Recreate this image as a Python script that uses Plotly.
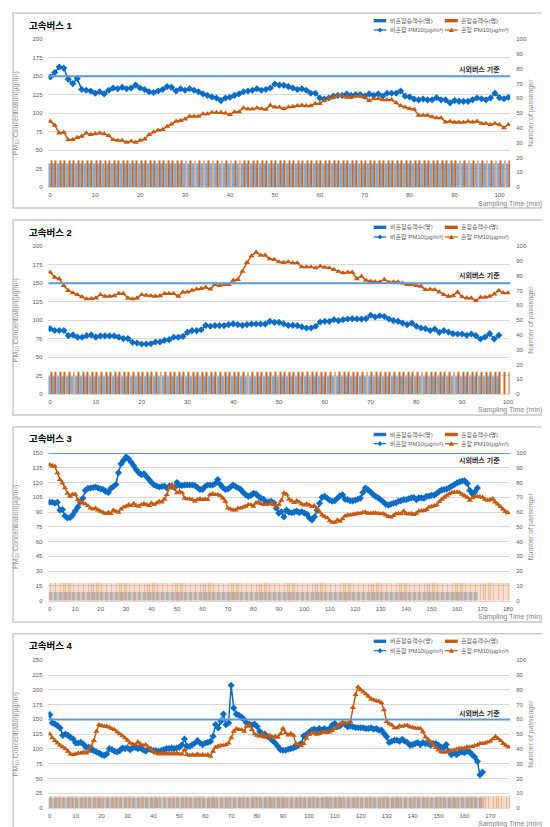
import plotly.graph_objects as go

W, H = 550, 827


def fx(px):
    return px / W


def fy(py):
    return 1 - py / H


# ---------------- data ----------------
standard_pm10 = 150
legend_names = ["비혼잡승객수(명)", "혼잡승객수(명)", "비혼잡 PM10(μg/m³)", "혼잡 PM10(μg/m³)"]
panel_titles = ["고속버스 1", "고속버스 2", "고속버스 3", "고속버스 4"]
standard_label = "시외버스 기준"

# Bus 1
bus1_pm_noncong = [149, 155, 162.5, 161, 146, 140, 147, 132, 131, 130, 127, 129, 126, 131, 134, 133, 135, 133, 134, 138,
                   134, 132, 129, 128, 130, 132, 136, 135, 130, 133, 131, 133, 131, 129, 126, 124, 122, 120.5, 117, 120.5,
                   121.5, 124, 126, 129, 130, 131, 133, 131, 132, 134, 139.5, 138, 137.7, 136, 134, 132, 133, 131, 127, 127,
                   120.5, 119, 120.5, 123, 124, 124, 126, 124, 125, 125, 123, 126, 124, 126, 123, 127, 127, 127, 130, 123,
                   122, 119, 118, 119, 118, 118, 121, 118, 118, 114, 117, 116, 116, 116, 118, 120.5, 119.5, 118, 120.5, 127,
                   121, 119.5, 121.5]
bus1_pm_cong = [89, 83.5, 73, 74, 64, 64, 67, 68.6, 73, 71, 72, 73, 72, 69.5, 64, 63, 63, 60.5, 62, 60.5,
                63, 65, 71, 74.5, 77, 77.7, 82, 85, 89, 90, 92, 95.7, 95.7, 95.7, 99, 99, 101, 101, 101, 100,
                98, 101.6, 101.6, 107, 105.6, 105.6, 107, 106, 105, 110.6, 108, 108, 106, 108, 109, 110, 110.6, 110, 110, 113,
                113, 117, 119.6, 121.5, 123.7, 123.7, 121.5, 121.5, 123, 123, 121.5, 117, 119.6, 119.6, 118, 118, 118, 114, 110, 108,
                106, 105, 97, 97, 97, 95, 93.5, 93.5, 88, 89, 87.6, 87.6, 87.6, 89, 88, 89, 86, 86, 84.4, 86,
                84.4, 80, 84.4]
bus1_pax_noncong = [16, 16, 16, 16, 16, 16, 16, 16, 16, 16, 16, 16, 16, 16, 16, 16, 16, 16, 16, 16,
                    16, 16, 16, 16, 16, 16, 16, 16, 16, 16, 16, 16, 16, 16, 16, 16, 16, 16, 16, 16,
                    16, 16, 16, 16, 16, 16, 16, 16, 16, 16, 16, 16, 16, 16, 16, 16, 16, 16, 16, 16,
                    16, 16, 16, 16, 16, 16, 16, 16, 16, 16, 16, 16, 16, 16, 16, 16, 16, 16, 16, 16,
                    16, 16, 16, 16, 16, 16, 16, 16, 16, 16, 16, 16, 16, 16, 16, 16, 16, 16, 16, 16,
                    16, 16, 16]
bus1_pax_cong = [18, 18, 18, 18, 18, 18, 18, 18, 18, 18, 18, 18, 18, 18, 18, 18, 18, 18, 18, 18,
                 18, 18, 18, 18, 18, 18, 18, 18, 18, 18, 18, 18, 18, 18, 18, 18, 18, 18, 18, 18,
                 18, 18, 18, 18, 18, 18, 18, 18, 18, 18, 18, 18, 18, 18, 18, 18, 18, 18, 18, 18,
                 18, 18, 18, 18, 18, 18, 18, 18, 18, 18, 18, 18, 18, 18, 18, 18, 18, 18, 18, 18,
                 18, 18, 18, 18, 18, 18, 18, 18, 18, 18, 18, 18, 18, 18, 18, 18, 18, 18, 18, 18,
                 18, 18, 18]

# Bus 2
bus2_pm_noncong = [88.5, 86, 86, 86, 79, 80, 77, 76.8, 79, 80, 77, 78.6, 78.6, 78.6, 78.6, 77, 75, 75, 70, 69,
                   67.7, 67.7, 68, 70.4, 70.4, 72.7, 73.6, 76.8, 76.8, 78, 83.5, 85.8, 85.8, 87, 93, 91.7, 92.6, 92.6, 92.6, 94,
                   95, 94, 93, 94, 94.8, 94.8, 94.8, 94.8, 98.4, 97, 97, 95, 93, 93, 92.6, 90.8, 89.4, 89.4, 91.7, 97.5,
                   98.4, 98.4, 100.7, 99.3, 100.7, 101.6, 102, 101.6, 101.6, 102, 106.6, 104.3, 106, 105, 101.6, 99.3, 98.4, 96, 94, 96,
                   91.7, 89.4, 88.5, 86, 88, 83.5, 85.8, 84, 81.7, 81.3, 81.3, 79.5, 81.3, 79, 74.5, 77.2, 81.7, 74.5, 79.5]
bus2_pm_cong = [164.8, 158, 156, 146.7, 140, 136.8, 134.5, 131.4, 128.7, 129, 130, 134.5, 132.3, 132.3, 133, 136, 136, 130, 128.7, 130,
                134.5, 133.6, 133, 132.3, 133, 136, 136, 136, 132.3, 138, 138, 140.4, 142, 142.7, 144.5, 142, 148, 146.7, 148, 148,
                154, 154.9, 166, 178, 187, 191.9, 187.8, 187.8, 182.9, 182, 178.8, 178, 178.8, 177.4, 177.4, 172, 172, 172, 170.7, 173,
                171.6, 170.7, 168.4, 166, 164, 164.8, 164.8, 156, 159.4, 154, 152.6, 152, 151.7, 154.9, 151.3, 151.7, 151.7, 150, 148, 148,
                146.7, 145.8, 141.3, 142, 141.3, 138, 134.5, 132.3, 133, 138, 131.4, 130, 130, 126.4, 131, 131, 132.3, 135.4, 140, 136.8,
                136.8]
bus2_pax_noncong = [12, 12, 12, 12, 12, 12, 12, 12, 12, 12, 12, 12, 12, 12, 12, 12, 12, 12, 12, 12,
                    12, 12, 12, 12, 12, 12, 12, 12, 12, 12, 12, 12, 12, 12, 12, 12, 12, 12, 12, 12,
                    12, 12, 12, 12, 12, 12, 12, 12, 12, 12, 12, 12, 12, 12, 12, 12, 12, 12, 12, 12,
                    12, 12, 12, 12, 12, 12, 12, 12, 12, 12, 12, 12, 12, 12, 12, 12, 12, 12, 12, 12,
                    12, 12, 12, 12, 12, 12, 12, 12, 12, 12, 12, 12, 12, 12, 12, 12, 12, 12, 12]
bus2_pax_cong = [15, 15, 15, 15, 15, 15, 15, 15, 15, 15, 15, 15, 15, 15, 15, 15, 15, 15, 15, 15,
                 15, 15, 15, 15, 15, 15, 15, 15, 15, 15, 15, 15, 15, 15, 15, 15, 15, 15, 15, 15,
                 15, 15, 15, 15, 15, 15, 15, 15, 15, 15, 15, 15, 15, 15, 15, 15, 15, 15, 15, 15,
                 15, 15, 15, 15, 15, 15, 15, 15, 15, 15, 15, 15, 15, 15, 15, 15, 15, 15, 15, 15,
                 15, 15, 15, 15, 15, 15, 15, 15, 15, 15, 15, 15, 15, 15, 15, 15, 15, 15, 15, 15,
                 15]

# Bus 3
bus3_pm_noncong = [100, 100, 99, 100, 92, 92.5, 86, 84, 84.5, 87, 91, 95, 100, 104, 112, 114, 114.5, 115, 115.5, 114.5,
                   113.5, 113, 111, 110, 114, 116, 118, 130, 139, 142.5, 146, 144, 140.5, 137, 133, 130, 128, 129, 126, 123,
                   120, 117.5, 116.5, 115.5, 116, 116.5, 114.5, 116.5, 116, 115, 120, 117, 117, 117.5, 117.5, 117.5, 117.5, 117, 115, 113,
                   113, 116, 117.5, 117.5, 117.5, 119, 123, 118, 115, 113, 113.5, 115.5, 117.5, 116, 114.5, 113, 110, 107.5, 106, 107,
                   109, 108.5, 106, 104, 103, 100, 100.5, 101, 99.5, 94, 89,
                   90.3, 85, 92, 90, 89.3, 90, 91, 89.5, 90.3, 89,
                   88, 84, 82, 85.3, 92, 99, 105, 106, 104, 102,
                   101, 101.5, 104, 106.5, 107.5, 103, 102.8, 101.4, 101.4, 102,
                   103, 104, 110, 114.5, 112.5, 110.5, 108, 106, 104.5, 102.5,
                   100.5, 98, 97, 98, 99, 99.4, 101, 101.4, 102.8, 102.5,
                   103.5, 104.5, 104.8, 102.5, 104.5, 104.5, 103.8, 106, 106.2, 107,
                   107.2, 108.9, 111, 112.5, 112.9, 113.5, 115, 116.5, 118, 119.6,
                   120.6, 121.5, 121.7, 119, 112, 108.5, 110.5, 114.5]
bus3_pm_cong = [138, 137, 136.5, 129.7, 123, 119.5, 114.5, 109, 106, 108, 108, 102.6, 101, 99, 98, 96.5, 94, 93, 94, 92,
                90.7, 89.7, 88.4, 89.7, 88.4, 92, 90.7, 89.7, 93, 95, 95.8, 97.5, 96.5, 98.5, 96.5, 95.8, 97.5, 98.5, 97.5, 96.5,
                99.2, 97.5, 99.2, 101, 100, 103, 107.7, 114.5, 117.8, 114.5, 109.4, 111, 109.4, 104.3, 103.3, 103.3, 102.6, 101, 102.6, 103.3,
                102.6, 103.3, 102.6, 107.7, 108.7, 107.7, 107.7, 106.7, 104.3, 101, 94, 93, 92, 92, 94, 94, 95, 95.8, 97.5, 97.5,
                95.8, 99.2, 100, 98.5, 97.5, 97.5, 98, 99.2, 97.5, 95.8, 97.5,
                102, 109.5, 108, 103, 101.5, 99.5, 101.5, 100, 98, 97,
                98.5, 97, 95.5, 96.5, 93, 90, 87, 85.5, 84, 81,
                79.5, 79.5, 82, 80.5, 83, 86, 87, 87, 87.5, 88,
                88.6, 88.6, 89.5, 90, 88.8, 88.6, 89, 89, 88.6, 88.2,
                88.4, 87, 85.5, 84.8, 86.5, 88.2, 88.5, 88.2, 91, 88.5,
                88, 88.6, 87.5, 88.8, 91, 91.3, 91.5, 92.5, 95, 95.6,
                96.5, 97, 100.5, 103, 105, 107, 108.5, 109.8, 110.2, 110.5,
                109.8, 108, 106.5, 105, 102, 104.5, 105.8, 105.7, 105.5, 105,
                103, 102, 102.5, 103.5, 100, 98, 95.5, 93, 90.5, 89.3]
bus3_pax_noncong = [6, 6, 6, 6, 6, 6, 6, 6, 6, 6, 6, 6, 6, 6, 6, 6, 6, 6, 6, 6,
                    6, 6, 6, 6, 6, 6, 6, 6, 6, 6, 6, 6, 6, 6, 6, 6, 6, 6, 6, 6,
                    6, 6, 6, 6, 6, 6, 6, 6, 6, 6, 6, 6, 6, 6, 6, 6, 6, 6, 6, 6,
                    6, 6, 6, 6, 6, 6, 6, 6, 6, 6, 6, 6, 6, 6, 6, 6, 6, 6, 6, 6,
                    6, 6, 6, 6, 6, 6, 6, 6, 6, 6, 6, 6, 6, 6, 6, 6, 6, 6, 6, 6,
                    6, 6, 6, 6, 6, 6, 6, 6, 6, 6, 6, 6, 6, 6, 6, 6, 6, 6, 6, 6,
                    6, 6, 6, 6, 6, 6, 6, 6, 6, 6, 6, 6, 6, 6, 6, 6, 6, 6, 6, 6,
                    6, 6, 6, 6, 6, 6, 6, 6, 6, 6, 6, 6, 6, 6, 6, 6, 6, 6, 6, 6,
                    6, 6, 6, 6, 6, 6, 6, 6, 6]
bus3_pax_cong = [12, 12, 12, 12, 12, 12, 12, 12, 12, 12, 12, 12, 12, 12, 12, 12, 12, 12, 12, 12,
                 12, 12, 12, 12, 12, 12, 12, 12, 12, 12, 12, 12, 12, 12, 12, 12, 12, 12, 12, 12,
                 12, 12, 12, 12, 12, 12, 12, 12, 12, 12, 12, 12, 12, 12, 12, 12, 12, 12, 12, 12,
                 12, 12, 12, 12, 12, 12, 12, 12, 12, 12, 12, 12, 12, 12, 12, 12, 12, 12, 12, 12,
                 12, 12, 12, 12, 12, 12, 12, 12, 12, 12, 12, 12, 12, 12, 12, 12, 12, 12, 12, 12,
                 12, 12, 12, 12, 12, 12, 12, 12, 12, 12, 12, 12, 12, 12, 12, 12, 12, 12, 12, 12,
                 12, 12, 12, 12, 12, 12, 12, 12, 12, 12, 12, 12, 12, 12, 12, 12, 12, 12, 12, 12,
                 12, 12, 12, 12, 12, 12, 12, 12, 12, 12, 12, 12, 12, 12, 12, 12, 12, 12, 12, 12,
                 12, 12, 12, 12, 12, 12, 12, 12, 12, 12, 12, 12, 12, 12, 12, 12, 12, 12, 12, 12,
                 12]

# Bus 4
bus4_pm_noncong = [158, 144, 142, 139.4, 135.4, 123, 125, 123, 119.6, 116.8, 110, 110, 111, 108, 102.7, 103.3, 98.8, 97, 94.8, 93,
                   90.3, 89, 91.4, 100.4, 98.8, 96, 94.8, 97, 101.6, 100.4, 101.6, 98.8, 101.6, 102.7, 100.4, 101.6, 98.8, 96, 100, 98.8,
                   97, 97, 96, 97, 98.8, 100.4, 100.4, 101.6, 100.4, 101.6, 102.7, 107, 116.8, 104.4, 104.4, 107, 110, 114, 110, 107,
                   110, 111, 112.9, 121.3, 141, 135.4, 146.7, 159, 141, 144, 207.7, 169.3, 159, 157, 154, 149.5, 144, 142, 140, 142,
                   138, 129.8, 125, 125, 121.3, 118.5, 114, 110, 104.4, 98.8,
                   97.7, 97.7, 99.4, 100.5, 101.7, 103.4, 106.2, 109, 122, 124.4,
                   127.8, 131.8, 133.5, 131.8, 134.6, 131.8, 134.6, 131.8, 134.6, 140.3,
                   143, 137.5, 139, 143, 141.4, 137.5, 139, 137.5, 136.3, 135.8,
                   135.8, 135.8, 134.6, 134.6, 135.8, 133.5, 134.6, 131.8, 131.8, 126,
                   120.4, 110.8, 113, 114.7, 114.7, 113, 116.4, 113, 110.8, 106.2,
                   107.3, 109, 110.8, 107.3, 110.8, 109, 109, 106.2, 109, 109,
                   106.2, 103.4, 101.7, 107.3, 96, 90.3, 93.7, 90.3, 93.7, 94.9,
                   93.7, 96, 94.9, 90.3, 86.3, 79, 56.2, 60.8]
bus4_pm_cong = [125.3, 118.5, 114, 110, 106, 103.3, 100.4, 96, 91.4, 90.3, 91.4, 93, 93, 94.8, 93, 96, 104.4, 114, 129.8, 141,
                139.4, 138.3, 138.3, 136.5, 134.3, 132.6, 128.7, 125.3, 122.5, 118.5, 114.6, 110, 108.3, 107.2, 111.7, 108.3, 106, 107.2, 102.7, 98.8,
                96, 93, 91.4, 93, 91.4, 93, 91.4, 93, 91.4, 93, 91.4, 91.4, 98.8, 90.3, 89, 90.3, 89, 91.4, 89, 90.3,
                89, 90.3, 87.5, 96, 102.7, 104.4, 106, 106, 107.2, 110, 118.5, 129.8, 134.3, 132.6, 132.6, 129.8, 138.3, 141, 132.6, 125.3,
                123, 121.3, 125.3, 119.6, 121.3, 123, 119.6, 121.3, 119.6, 125.3,
                134.6, 127, 123.5, 126, 123, 109, 106.5, 105, 109, 118,
                124, 126.5, 127.5, 124.5, 126, 128, 128.5, 127.8, 128.5, 131,
                134.5, 138, 142, 145, 143.5, 144, 146, 170, 192, 205,
                200, 196.5, 193, 189, 184.5, 183, 181.5, 180.5, 178, 166,
                146, 142.5, 140.3, 135.5, 135.8, 139, 138, 139.5, 140, 137.5,
                136.5, 135, 134.6, 134.6, 129, 120, 116, 112, 106.5, 102,
                98, 95, 94, 94.9, 95.5, 97, 98, 99.4, 101, 101,
                101, 103.4, 103.4, 104, 105.5, 106.5, 109, 109, 110, 111.5,
                113, 117, 121, 117.6, 114, 109, 106, 103.4]
bus4_pax_noncong = [7, 7, 7, 7, 7, 7, 7, 7, 7, 7, 7, 7, 7, 7, 7, 7, 7, 7, 7, 7,
                    7, 7, 7, 7, 7, 7, 7, 7, 7, 7, 7, 7, 7, 7, 7, 7, 7, 7, 7, 7,
                    7, 7, 7, 7, 7, 7, 7, 7, 7, 7, 7, 7, 7, 7, 7, 7, 7, 7, 7, 7,
                    7, 7, 7, 7, 7, 7, 7, 7, 7, 7, 7, 7, 7, 7, 7, 7, 7, 7, 7, 7,
                    7, 7, 7, 7, 7, 7, 7, 7, 7, 7, 7, 7, 7, 7, 7, 7, 7, 7, 7, 7,
                    7, 7, 7, 7, 7, 7, 7, 7, 7, 7, 7, 7, 7, 7, 7, 7, 7, 7, 7, 7,
                    7, 7, 7, 7, 7, 7, 7, 7, 7, 7, 7, 7, 7, 7, 7, 7, 7, 7, 7, 7,
                    7, 7, 7, 7, 7, 7, 7, 7, 7, 7, 7, 7, 7, 7, 7, 7, 7, 7, 7, 7,
                    7, 7, 7, 7, 7, 7, 7, 7]
bus4_pax_cong = [8, 8, 8, 8, 8, 8, 8, 8, 8, 8, 8, 8, 8, 8, 8, 8, 8, 8, 8, 8,
                 8, 8, 8, 8, 8, 8, 8, 8, 8, 8, 8, 8, 8, 8, 8, 8, 8, 8, 8, 8,
                 8, 8, 8, 8, 8, 8, 8, 8, 8, 8, 8, 8, 8, 8, 8, 8, 8, 8, 8, 8,
                 8, 8, 8, 8, 8, 8, 8, 8, 8, 8, 8, 8, 8, 8, 8, 8, 8, 8, 8, 8,
                 8, 8, 8, 8, 8, 8, 8, 8, 8, 8, 8, 8, 8, 8, 8, 8, 8, 8, 8, 8,
                 8, 8, 8, 8, 8, 8, 8, 8, 8, 8, 8, 8, 8, 8, 8, 8, 8, 8, 8, 8,
                 8, 8, 8, 8, 8, 8, 8, 8, 8, 8, 8, 8, 8, 8, 8, 8, 8, 8, 8, 8,
                 8, 8, 8, 8, 8, 8, 8, 8, 8, 8, 8, 8, 8, 8, 8, 8, 8, 8, 8, 8,
                 8, 8, 8, 8, 8, 8, 8, 8, 8, 8, 8, 8, 8, 8, 8, 8, 8, 8]

pm_left_max = [200, 200, 150, 250]
pm_left_dtick = [25, 25, 15, 25]
x_tick_max = [100, 100, 180, 170]

# ---------------- styling / layout ----------------
BLUE = "#0A6CC2"
ORANGE = "#C55A11"
STD_COLOR = "#5B9BD5"
GRID = "#D9D9D9"
TICK = "#595959"
AXT = "#8C8C8C"
FONT = "Liberation Sans, Noto Sans CJK KR, sans-serif"

panels = [
    dict(pm_b=bus1_pm_noncong, pm_o=bus1_pm_cong, pax_b=bus1_pax_noncong, pax_o=bus1_pax_cong,
         xr=[-0.4, 102.4], top=31.3, bot=179, box=(5, 200), title_y=17, leg=(12.7, 22), std_y=61,
         samp_y=195.5, bars=dict(bw=0.6, bo=0.2, cb="#6FA3D8", co="#C55A11", op=0.9)),
    dict(pm_b=bus2_pm_noncong, pm_o=bus2_pm_cong, pax_b=bus2_pax_noncong, pax_o=bus2_pax_cong,
         xr=[-0.35, 100.5], top=238.3, bot=386, box=(212, 407), title_y=224, leg=(219.3, 229), std_y=267.3,
         samp_y=402, bars=dict(bw=0.6, bo=0.2, cb="#6FA3D8", co="#C55A11", op=0.9)),
    dict(pm_b=bus3_pm_noncong, pm_o=bus3_pm_cong, pax_b=bus3_pax_noncong, pax_o=bus3_pax_cong,
         xr=[-0.5, 180.9], top=445, bot=592.7, box=(419, 614), title_y=430.7, leg=(426.5, 435.7), std_y=452.7,
         samp_y=609, bars=dict(bw=0.5, bo=0.3, cb="#5B8FBF", co="#D9894F", op=0.55)),
    dict(pm_b=bus4_pm_noncong, pm_o=bus4_pm_cong, pax_b=bus4_pax_noncong, pax_o=bus4_pax_cong,
         xr=[-0.5, 177.7], top=652.3, bot=800, box=(625.7, 821.7), title_y=637.3, leg=(633.3, 642.7), std_y=705,
         samp_y=816, bars=dict(bw=0.5, bo=0.3, cb="#5B8FBF", co="#D9894F", op=0.6)),
]

X0, X1 = 40.7, 505

fig = go.Figure()
layout = dict(width=W, height=H, margin=dict(l=0, r=0, t=0, b=0),
              paper_bgcolor="white", plot_bgcolor="white", showlegend=False,
              barmode="overlay", font=dict(family=FONT, color=TICK))
shapes = []
annotations = []

for i, p in enumerate(panels):
    n = i + 1
    xk = "xaxis" if n == 1 else f"xaxis{n}"
    yk = "yaxis" if n == 1 else f"yaxis{n}"
    xr = "x" if n == 1 else f"x{n}"
    yl = "y" if n == 1 else f"y{n}"
    yr = f"y{n + 4}"
    yrk = f"yaxis{n + 4}"

    layout[xk] = dict(domain=[fx(X0), fx(X1)], anchor=yl, range=p["xr"],
                      tickmode="array", tickvals=list(range(0, x_tick_max[i] + 1, 10)),
                      showgrid=False, zeroline=False, showline=True, linecolor=GRID, linewidth=1,
                      ticks="", tickfont=dict(size=6, color=TICK), ticklabelstandoff=2)
    layout[yk] = dict(domain=[fy(p["bot"]), fy(p["top"])], anchor=xr, range=[0, pm_left_max[i]],
                      dtick=pm_left_dtick[i], tick0=0, showgrid=True, gridcolor=GRID, gridwidth=1,
                      zeroline=False, showline=False, ticks="", tickfont=dict(size=6, color=TICK),
                      ticklabelstandoff=5, automargin=False,
                      title=dict(text="PM<sub>10</sub> Concentration(μg/m³)", standoff=13,
                                 font=dict(size=7, color=AXT)))
    layout[yrk] = dict(overlaying=yl, anchor=xr, side="right", range=[0, 100], dtick=10, tick0=0,
                       showgrid=False, zeroline=False, showline=False, ticks="",
                       tickfont=dict(size=6, color=TICK), ticklabelstandoff=5, automargin=False,
                       title=dict(text="Number of passenger", standoff=2, font=dict(size=7, color=AXT)))

    bs = p["bars"]
    fig.add_trace(go.Bar(x=list(range(len(p["pax_b"]))), y=p["pax_b"], xaxis=xr, yaxis=yr,
                         width=bs["bw"], offset=-bs["bw"] + 0.05, opacity=bs["op"],
                         marker=dict(color=bs["cb"], line=dict(width=0)),
                         name=legend_names[0], showlegend=False))
    fig.add_trace(go.Bar(x=list(range(len(p["pax_o"]))), y=p["pax_o"], xaxis=xr, yaxis=yr,
                         width=bs["bo"], offset=0.12, opacity=bs["op"],
                         marker=dict(color=bs["co"], line=dict(width=0)),
                         name=legend_names[1], showlegend=False))
    fig.add_trace(go.Scatter(x=list(range(len(p["pm_b"]))), y=p["pm_b"], xaxis=xr, yaxis=yl,
                             mode="lines+markers", line=dict(color=BLUE, width=1.5),
                             marker=dict(symbol="diamond", size=5.5, color=BLUE),
                             name=legend_names[2], showlegend=False))
    fig.add_trace(go.Scatter(x=list(range(len(p["pm_o"]))), y=p["pm_o"], xaxis=xr, yaxis=yl,
                             mode="lines+markers", line=dict(color=ORANGE, width=1.5),
                             marker=dict(symbol="triangle-up", size=5.5, color=ORANGE),
                             name=legend_names[3], showlegend=False))

    # panel border
    b0, b1 = p["box"]
    shapes.append(dict(type="rect", xref="paper", yref="paper", x0=fx(5), x1=fx(541),
                       y0=fy(b1), y1=fy(b0), line=dict(color="#C9C9C9", width=1.5), layer="below"))
    # standard line
    shapes.append(dict(type="line", xref=f"{xr} domain", yref=yl, x0=0, x1=1,
                       y0=standard_pm10, y1=standard_pm10, line=dict(color=STD_COLOR, width=2)))

    # title and notes
    annotations.append(dict(text=f"<b>{panel_titles[i]}</b>", xref="paper", yref="paper",
                            x=fx(19), y=fy(p["title_y"]), xanchor="left", yanchor="middle",
                            showarrow=False, font=dict(size=9.5, color="#000000")))
    annotations.append(dict(text=f"<b>{standard_label}</b>", xref="paper", yref="paper",
                            x=fx(497), y=fy(p["std_y"]), xanchor="right", yanchor="middle",
                            showarrow=False, font=dict(size=7, color="#262626")))
    annotations.append(dict(text="Sampling Time (min)", xref="paper", yref="paper",
                            x=fx(539), y=fy(p["samp_y"]), xanchor="right", yanchor="middle",
                            showarrow=False, font=dict(size=7, color="#7F7F7F")))

    # manual legend (2 x 2)
    r1, r2 = p["leg"]
    cols = [(367.7, 380.3), (439.3, 452.3)]
    for c, (a0, a1) in enumerate(cols):
        col = "#1F6FC0" if c == 0 else ORANGE
        shapes.append(dict(type="rect", xref="paper", yref="paper", x0=fx(a0), x1=fx(a1),
                           y0=fy(r1 + 1.7), y1=fy(r1 - 1.7), line=dict(width=0), fillcolor=col))
        annotations.append(dict(text=legend_names[c], xref="paper", yref="paper", x=fx(a1 + 1.5),
                                y=fy(r1), xanchor="left", yanchor="middle", showarrow=False,
                                font=dict(size=6, color=TICK)))
        lc = BLUE if c == 0 else ORANGE
        shapes.append(dict(type="line", xref="paper", yref="paper", x0=fx(a0), x1=fx(a1),
                           y0=fy(r2), y1=fy(r2), line=dict(color=lc, width=1.2)))
        cx = (a0 + a1) / 2
        if c == 0:
            path = (f"M{fx(cx)},{fy(r2 - 2.6)} L{fx(cx + 2.4)},{fy(r2)} "
                    f"L{fx(cx)},{fy(r2 + 2.6)} L{fx(cx - 2.4)},{fy(r2)} Z")
        else:
            path = (f"M{fx(cx)},{fy(r2 - 2.6)} L{fx(cx + 2.6)},{fy(r2 + 2)} "
                    f"L{fx(cx - 2.6)},{fy(r2 + 2)} Z")
        shapes.append(dict(type="path", xref="paper", yref="paper", path=path,
                           fillcolor=lc, line=dict(width=0)))
        annotations.append(dict(text=legend_names[2 + c], xref="paper", yref="paper", x=fx(a1 + 1.5),
                                y=fy(r2), xanchor="left", yanchor="middle", showarrow=False,
                                font=dict(size=6, color=TICK)))

layout["shapes"] = shapes
layout["annotations"] = annotations
fig.update_layout(**layout)
fig.write_html("out.html")
